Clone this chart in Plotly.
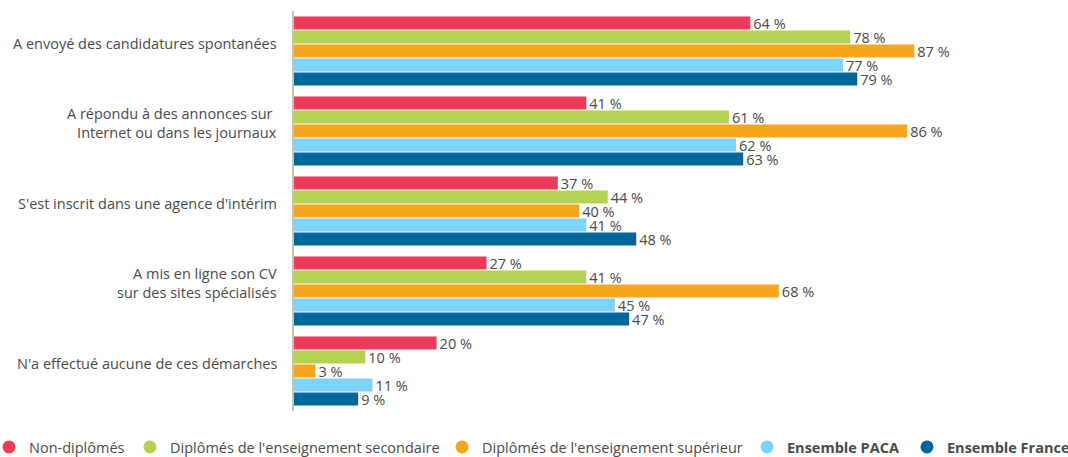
import plotly.graph_objects as go

categories = [
    "A envoyé des candidatures spontanées",
    "A répondu à des annonces sur <br>Internet ou dans les journaux",
    "S'est inscrit dans une agence d'intérim",
    "A mis en ligne son CV<br>sur des sites spécialisés",
    "N'a effectué aucune de ces démarches",
]
series_names = [
    "Non-diplômés",
    "Diplômés de l'enseignement secondaire",
    "Diplômés de l'enseignement supérieur",
    "<b>Ensemble PACA</b>",
    "<b>Ensemble France</b>",
]
non_diplomes = [64, 41, 37, 27, 20]
secondaire = [78, 61, 44, 41, 10]
superieur = [87, 86, 40, 68, 3]
paca = [77, 62, 41, 45, 11]
france = [79, 63, 48, 47, 9]
colors = ["#ee3b5a", "#b3d350", "#f6a51d", "#7dd3f5", "#006798"]
legend_left_px = [-11, 130, 442, 747, 907]

series = [non_diplomes, secondaire, superieur, paca, france]
cat_ids = list(range(len(categories)))

FONT = "Open Sans"
TXT = "#4a4a4a"
W, H = 1068, 457
ML, MR, MT, MB = 294, 61, 11, 46
PW = W - ML - MR

fig = go.Figure()
legend_layout = {}
for k, (name, vals, col) in enumerate(zip(series_names, series, colors)):
    lname = "legend" if k == 0 else f"legend{k + 1}"
    fig.add_trace(go.Bar(
        y=cat_ids, x=vals, orientation="h",
        marker=dict(color=col, line=dict(width=0)),
        text=[f"{v} %" for v in vals],
        textposition="outside",
        textfont=dict(family=FONT, size=14.5, color=TXT),
        cliponaxis=False,
        constraintext="none",
        showlegend=False,
        hoverinfo="skip",
    ))
    fig.add_trace(go.Scatter(
        x=[None], y=[None], mode="markers", name=name,
        marker=dict(color=col, size=13, symbol="circle"),
        showlegend=True, legend=lname,
    ))
    legend_layout[lname] = dict(
        orientation="h", xref="paper", yref="container",
        x=(legend_left_px[k] - ML) / PW, xanchor="left",
        y=(H - 447) / H, yanchor="middle",
        font=dict(family=FONT, size=14.5, color=TXT),
        bgcolor="rgba(0,0,0,0)", itemwidth=30,
    )

annotations = []
for i, c in enumerate(categories):
    annotations.append(dict(
        x=0, xref="paper", y=i, yref="y", text=c, showarrow=False,
        xanchor="right", yanchor="middle", align="right",
        xshift=-15, yshift=8,
        font=dict(family=FONT, size=14.5, color=TXT),
    ))

fig.update_layout(
    width=W, height=H,
    margin=dict(l=ML, r=MR, t=MT, b=MB, autoexpand=False),
    paper_bgcolor="white", plot_bgcolor="white",
    barmode="group", bargap=0.125, bargroupgap=0.07,
    xaxis=dict(range=[0, 100], visible=False, showgrid=False, zeroline=False),
    yaxis=dict(
        range=[len(categories) - 0.5, -0.5],
        showticklabels=False, showgrid=False, zeroline=False,
        showline=True, linecolor="#c9c6ae", linewidth=2, ticks="",
    ),
    annotations=annotations,
    **legend_layout,
)

fig.write_html("out.html", config={"displayModeBar": False},
               post_script="document.body.style.margin='0';")
